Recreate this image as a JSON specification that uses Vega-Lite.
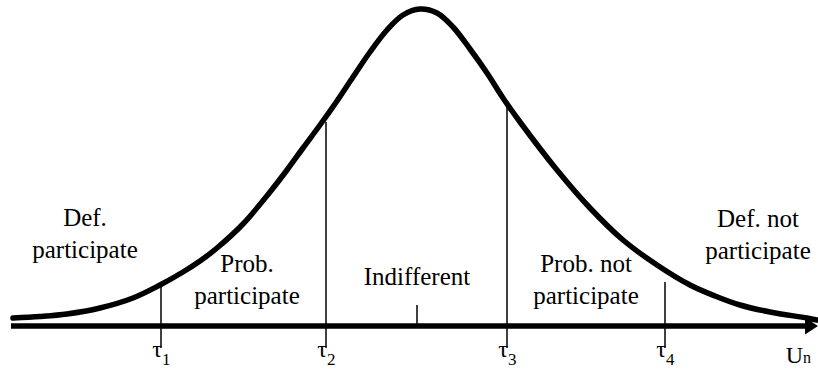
{
  "$schema": "https://vega.github.io/schema/vega-lite/v6.json",
  "width": 818,
  "height": 374,
  "padding": 0,
  "autosize": {"type": "none"},
  "config": {"view": {"stroke": null}},
  "datasets": {
    "curve": [
      {"u": 13, "d": 8}, {"u": 40, "d": 9.5}, {"u": 67, "d": 12}, {"u": 100, "d": 18},
      {"u": 133, "d": 28}, {"u": 160, "d": 41}, {"u": 183, "d": 54}, {"u": 200, "d": 65},
      {"u": 217, "d": 78}, {"u": 243, "d": 102}, {"u": 270, "d": 134}, {"u": 287, "d": 156},
      {"u": 303, "d": 178}, {"u": 320, "d": 201}, {"u": 337, "d": 225}, {"u": 353, "d": 249},
      {"u": 370, "d": 274}, {"u": 387, "d": 296}, {"u": 403, "d": 311}, {"u": 420, "d": 317},
      {"u": 437, "d": 313}, {"u": 453, "d": 299}, {"u": 470, "d": 277}, {"u": 487, "d": 253},
      {"u": 503, "d": 228}, {"u": 520, "d": 204}, {"u": 557, "d": 156}, {"u": 590, "d": 118},
      {"u": 623, "d": 86}, {"u": 657, "d": 61}, {"u": 690, "d": 41}, {"u": 715, "d": 30},
      {"u": 740, "d": 21}, {"u": 770, "d": 14}, {"u": 807, "d": 8}, {"u": 817, "d": 6}
    ],
    "rules": [
      {"u": 161, "low": -22, "high": 43},
      {"u": 326, "low": -22, "high": 204},
      {"u": 417, "low": 0, "high": 21},
      {"u": 507, "low": -22, "high": 219},
      {"u": 665, "low": -22, "high": 44}
    ],
    "labels": [
      {"u": 85, "h": 100, "t": "Def.\nparticipate"},
      {"u": 247, "h": 54, "t": "Prob.\nparticipate"},
      {"u": 417, "h": 41, "t": "Indifferent"},
      {"u": 586, "h": 54, "t": "Prob. not\nparticipate"},
      {"u": 758, "h": 99, "t": "Def. not\nparticipate"}
    ],
    "taus": [
      {"u": 161, "main": "τ", "sub": "1"},
      {"u": 326, "main": "τ", "sub": "2"},
      {"u": 507, "main": "τ", "sub": "3"},
      {"u": 665, "main": "τ", "sub": "4"}
    ]
  },
  "layer": [
    {
      "data": {"values": [{"u": 11, "u2": 808, "h": 0}]},
      "mark": {"type": "rule", "strokeWidth": 5.5, "color": "black"},
      "encoding": {
        "x": {"field": "u", "type": "quantitative", "scale": {"domain": [0, 818], "nice": false, "zero": false}, "axis": null},
        "x2": {"field": "u2"},
        "y": {"field": "h", "type": "quantitative", "scale": {"domain": [-48, 326], "nice": false, "zero": false}, "axis": null}
      }
    },
    {
      "data": {"values": [{"u": 811.5, "h": 0}]},
      "mark": {"type": "point", "shape": "M -0.76 -1 L 0.76 0 L -0.76 1 Z", "size": 289, "filled": true, "opacity": 1, "color": "black"},
      "encoding": {
        "x": {"field": "u", "type": "quantitative", "scale": {"domain": [0, 818], "nice": false, "zero": false}, "axis": null},
        "y": {"field": "h", "type": "quantitative", "scale": {"domain": [-48, 326], "nice": false, "zero": false}, "axis": null}
      }
    },
    {
      "data": {"name": "curve"},
      "mark": {"type": "line", "strokeWidth": 5.5, "color": "black", "strokeCap": "round", "interpolate": "catmull-rom"},
      "encoding": {
        "x": {"field": "u", "type": "quantitative", "scale": {"domain": [0, 818], "nice": false, "zero": false}, "axis": null},
        "y": {"field": "d", "type": "quantitative", "scale": {"domain": [-48, 326], "nice": false, "zero": false}, "axis": null}
      }
    },
    {
      "data": {"name": "rules"},
      "mark": {"type": "rule", "strokeWidth": 1.5, "color": "black"},
      "encoding": {
        "x": {"field": "u", "type": "quantitative", "scale": {"domain": [0, 818], "nice": false, "zero": false}, "axis": null},
        "y": {"field": "low", "type": "quantitative", "scale": {"domain": [-48, 326], "nice": false, "zero": false}, "axis": null},
        "y2": {"field": "high"}
      }
    },
    {
      "data": {"name": "labels"},
      "mark": {"type": "text", "font": "Times New Roman, Liberation Serif, DejaVu Serif, serif", "color": "black", "fontSize": 25, "lineBreak": "\n", "lineHeight": 31.5, "align": "center", "baseline": "alphabetic"},
      "encoding": {
        "x": {"field": "u", "type": "quantitative", "scale": {"domain": [0, 818], "nice": false, "zero": false}, "axis": null},
        "y": {"field": "h", "type": "quantitative", "scale": {"domain": [-48, 326], "nice": false, "zero": false}, "axis": null},
        "text": {"field": "t"}
      }
    },
    {
      "data": {"name": "taus"},
      "mark": {"type": "text", "font": "Times New Roman, Liberation Serif, DejaVu Serif, serif", "color": "black", "fontSize": 24, "align": "right", "baseline": "alphabetic", "dx": 1, "dy": 31},
      "encoding": {
        "x": {"field": "u", "type": "quantitative", "scale": {"domain": [0, 818], "nice": false, "zero": false}, "axis": null},
        "y": {"datum": 0, "type": "quantitative", "scale": {"domain": [-48, 326], "nice": false, "zero": false}, "axis": null},
        "text": {"field": "main"}
      }
    },
    {
      "data": {"name": "taus"},
      "mark": {"type": "text", "font": "Times New Roman, Liberation Serif, DejaVu Serif, serif", "color": "black", "fontSize": 17, "align": "left", "baseline": "alphabetic", "dx": 1, "dy": 39},
      "encoding": {
        "x": {"field": "u", "type": "quantitative", "scale": {"domain": [0, 818], "nice": false, "zero": false}, "axis": null},
        "y": {"datum": 0, "type": "quantitative", "scale": {"domain": [-48, 326], "nice": false, "zero": false}, "axis": null},
        "text": {"field": "sub"}
      }
    },
    {
      "data": {"values": [{"u": 803, "h": -37, "main": "U", "sub": "n"}]},
      "mark": {"type": "text", "font": "Times New Roman, Liberation Serif, DejaVu Serif, serif", "color": "black", "fontSize": 24, "align": "right", "baseline": "alphabetic"},
      "encoding": {
        "x": {"field": "u", "type": "quantitative", "scale": {"domain": [0, 818], "nice": false, "zero": false}, "axis": null},
        "y": {"field": "h", "type": "quantitative", "scale": {"domain": [-48, 326], "nice": false, "zero": false}, "axis": null},
        "text": {"field": "main"}
      }
    },
    {
      "data": {"values": [{"u": 803, "h": -37, "main": "U", "sub": "n"}]},
      "mark": {"type": "text", "font": "Times New Roman, Liberation Serif, DejaVu Serif, serif", "color": "black", "fontSize": 16, "align": "left", "baseline": "alphabetic"},
      "encoding": {
        "x": {"field": "u", "type": "quantitative", "scale": {"domain": [0, 818], "nice": false, "zero": false}, "axis": null},
        "y": {"field": "h", "type": "quantitative", "scale": {"domain": [-48, 326], "nice": false, "zero": false}, "axis": null},
        "text": {"field": "sub"}
      }
    }
  ]
}
